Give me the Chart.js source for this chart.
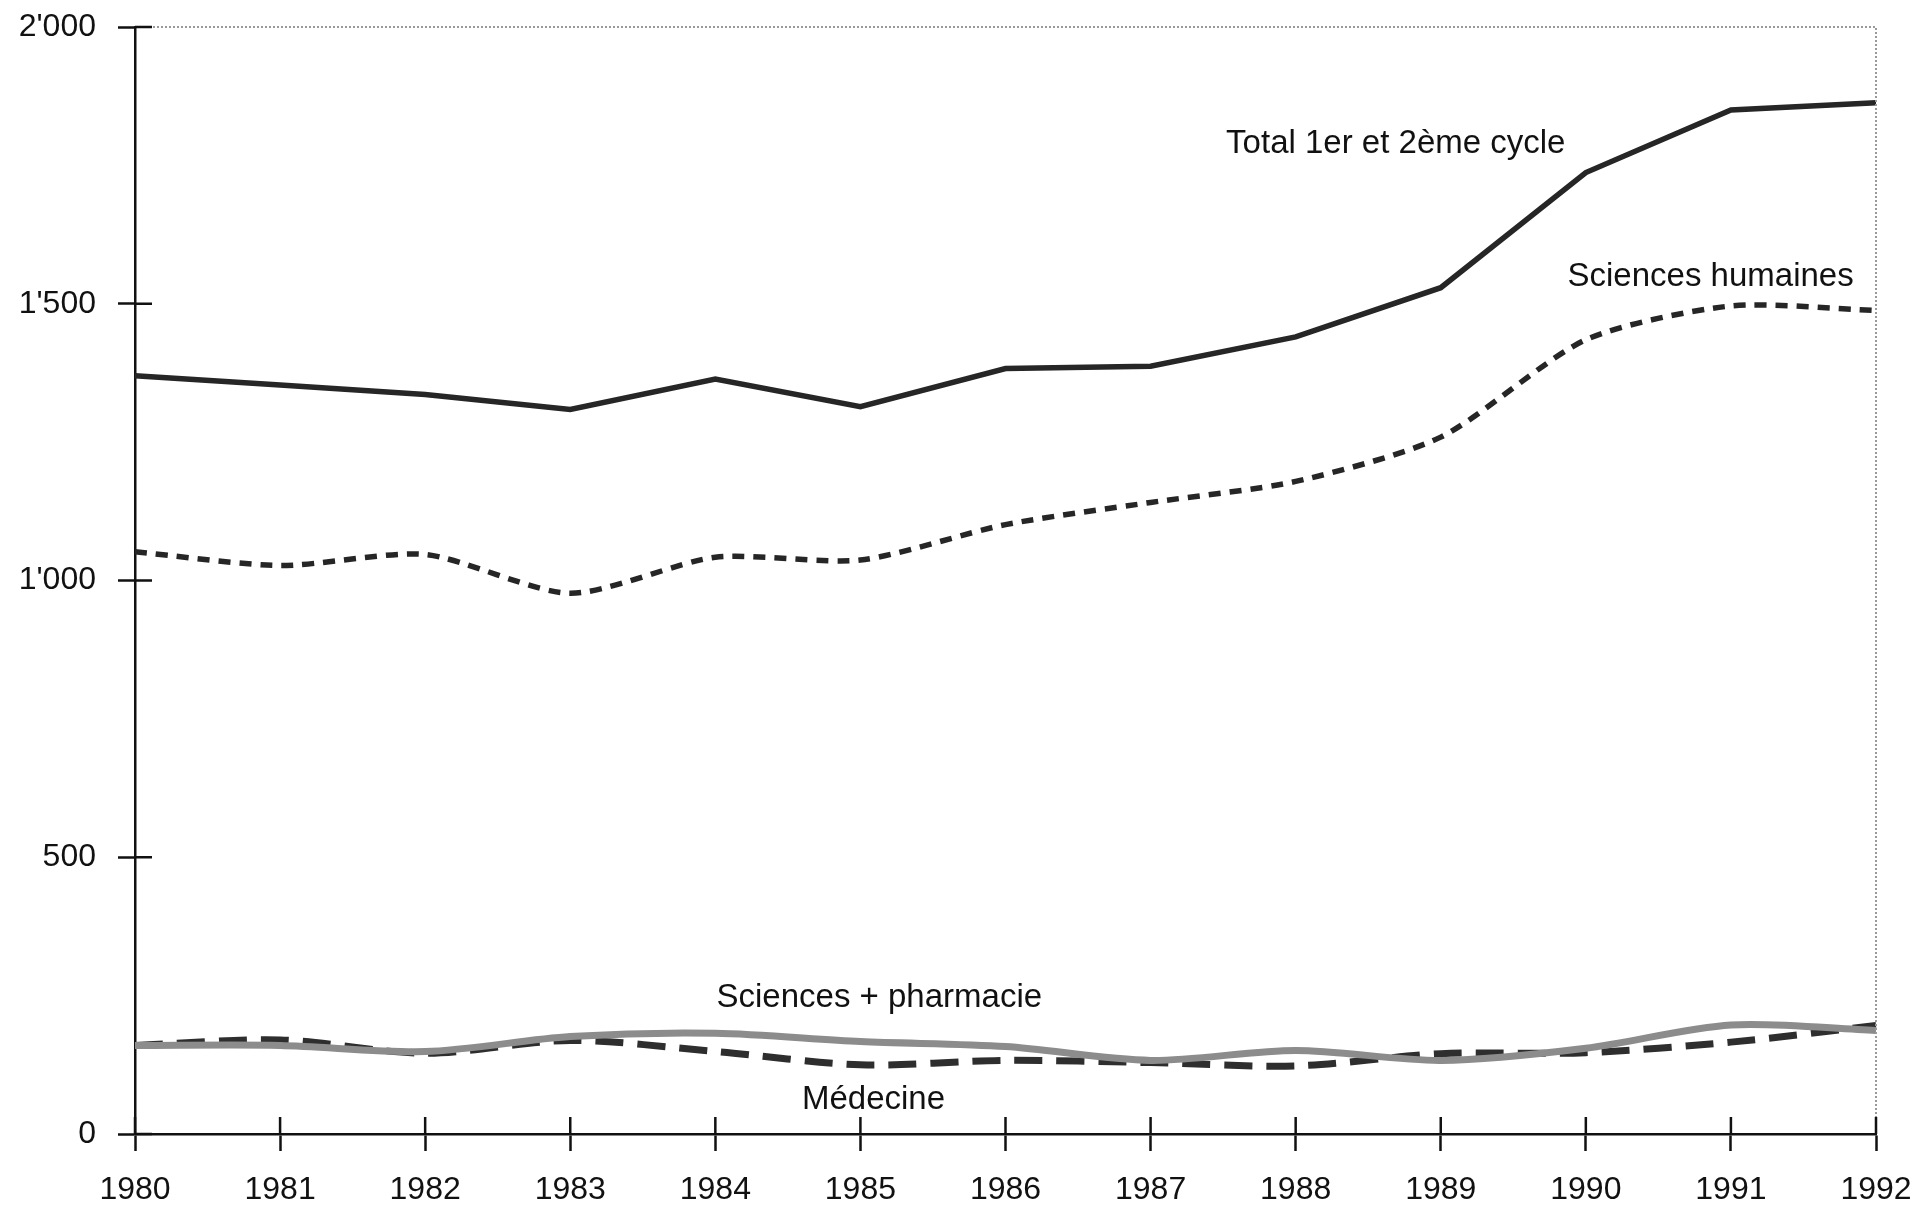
<!DOCTYPE html>
<html>
<head>
    <title>Effectifs 1er et 2ème cycle 1980-1992</title>
    <style>
        html, body { margin: 0; padding: 0; background: #fff; }
        #chart-container { width: 1920px; height: 1208px; }
    </style>
</head>
<body>
    <div id="chart-container">
        <canvas id="myChart"></canvas>
    </div>

    <script src="https://cdn.jsdelivr.net/npm/chart.js"></script>
    <script>
        // Données
        const years = ['1980', '1981', '1982', '1983', '1984', '1985', '1986',
                       '1987', '1988', '1989', '1990', '1991', '1992'];
        const total = [1370, 1353, 1336, 1309, 1364, 1314, 1383, 1387, 1440, 1529, 1737, 1850, 1863];
        const sciencesHumaines = [1052, 1027, 1047, 977, 1042, 1037, 1101, 1141, 1179, 1259, 1435, 1496, 1488];
        const sciencesPharmacie = [160, 160, 149, 176, 182, 167, 158, 133, 151, 133, 155, 197, 187];
        const medecine = [160, 170, 146, 169, 149, 125, 133, 129, 123, 145, 147, 166, 196];
        const yTicks = [0, 500, 1000, 1500, 2000];

        // Étiquettes posées dans le graphique (x = index d'année, y = valeur)
        const notes = [
            { text: 'Total 1er et 2ème cycle', x: 8.69, y: 1788 },
            { text: 'Sciences humaines', x: 10.86, y: 1549 },
            { text: 'Sciences + pharmacie', x: 5.13, y: 246 },
            { text: 'Médecine', x: 5.09, y: 62 }
        ];

        const FONT = "'Liberation Sans', Arial, Helvetica, sans-serif";
        const INK = '#111';

        function fmt(v) {
            return String(v).replace(/\B(?=(\d{3})+(?!\d))/g, "'");
        }

        // ticks qui traversent les axes, cadre pointillé, étiquettes
        const decorPlugin = {
            id: 'decor',
            afterDraw(chart) {
                const c = chart.ctx;
                const area = chart.chartArea;
                const xs = chart.scales.x;
                const ys = chart.scales.y;
                c.save();

                // cadre pointillé en haut et à droite
                c.strokeStyle = '#9a9a9a';
                c.lineWidth = 2;
                c.setLineDash([2, 2]);
                c.beginPath();
                c.moveTo(area.left + 18, area.top);
                c.lineTo(area.right, area.top);
                c.lineTo(area.right, area.bottom);
                c.stroke();
                c.setLineDash([]);

                // moitié intérieure des graduations
                c.strokeStyle = INK;
                c.lineWidth = 2.5;
                c.beginPath();
                xs.ticks.forEach((t, i) => {
                    const px = xs.getPixelForTick(i);
                    c.moveTo(px, area.bottom);
                    c.lineTo(px, area.bottom - 17);
                });
                ys.ticks.forEach((t, i) => {
                    const py = ys.getPixelForTick(i);
                    c.moveTo(area.left, py);
                    c.lineTo(area.left + 17, py);
                });
                c.stroke();

                // étiquettes des séries
                c.fillStyle = INK;
                c.font = '33px ' + FONT;
                c.textAlign = 'center';
                c.textBaseline = 'middle';
                notes.forEach(n => {
                    c.fillText(n.text, xs.getPixelForValue(n.x), ys.getPixelForValue(n.y));
                });
                c.restore();
            }
        };

        const ctx = document.getElementById('myChart').getContext('2d');
        const myChart = new Chart(ctx, {
            type: 'line',
            data: {
                labels: years,
                datasets: [
                    {
                        label: 'Total 1er et 2ème cycle',
                        data: total,
                        borderColor: '#262626',
                        borderWidth: 5.5,
                        tension: 0
                    },
                    {
                        label: 'Sciences humaines',
                        data: sciencesHumaines,
                        borderColor: '#262626',
                        borderWidth: 5.5,
                        borderDash: [12, 9],
                        tension: 0.25
                    },
                    {
                        label: 'Sciences + pharmacie',
                        data: sciencesPharmacie,
                        borderColor: '#8c8c8c',
                        borderWidth: 7,
                        tension: 0.3
                    },
                    {
                        label: 'Médecine',
                        data: medecine,
                        borderColor: '#2e2e2e',
                        borderWidth: 7,
                        borderDash: [28, 14],
                        tension: 0.3
                    }
                ]
            },
            options: {
                responsive: true,
                maintainAspectRatio: false,
                animation: false,
                devicePixelRatio: 1,
                layout: { padding: { top: 27, right: 44, left: 0, bottom: 0 } },
                elements: { point: { radius: 0 } },
                plugins: {
                    legend: { display: false },
                    tooltip: { enabled: false }
                },
                scales: {
                    x: {
                        offset: false,
                        grid: {
                            drawOnChartArea: false,
                            tickLength: 17,
                            tickColor: INK,
                            tickWidth: 2.5
                        },
                        border: { display: true, color: INK, width: 2.5 },
                        ticks: {
                            color: INK,
                            font: { family: FONT, size: 32 },
                            maxRotation: 0,
                            autoSkip: false,
                            padding: 20
                        },
                        afterFit(scale) {
                            scale.height = 74;
                            scale.paddingLeft = 0;
                            scale.paddingRight = 0;
                        }
                    },
                    y: {
                        min: 0,
                        max: 2000,
                        afterBuildTicks(scale) {
                            scale.ticks = yTicks.map(v => ({ value: v }));
                        },
                        grid: {
                            drawOnChartArea: false,
                            tickLength: 17,
                            tickColor: INK,
                            tickWidth: 2.5
                        },
                        border: { display: true, color: INK, width: 2.5 },
                        ticks: {
                            color: INK,
                            font: { family: FONT, size: 32 },
                            padding: 22,
                            callback: v => fmt(v)
                        },
                        afterFit(scale) {
                            scale.width = 135;
                            scale.paddingTop = 0;
                            scale.paddingBottom = 0;
                        }
                    }
                }
            },
            plugins: [decorPlugin]
        });
    </script>
</body>
</html>
